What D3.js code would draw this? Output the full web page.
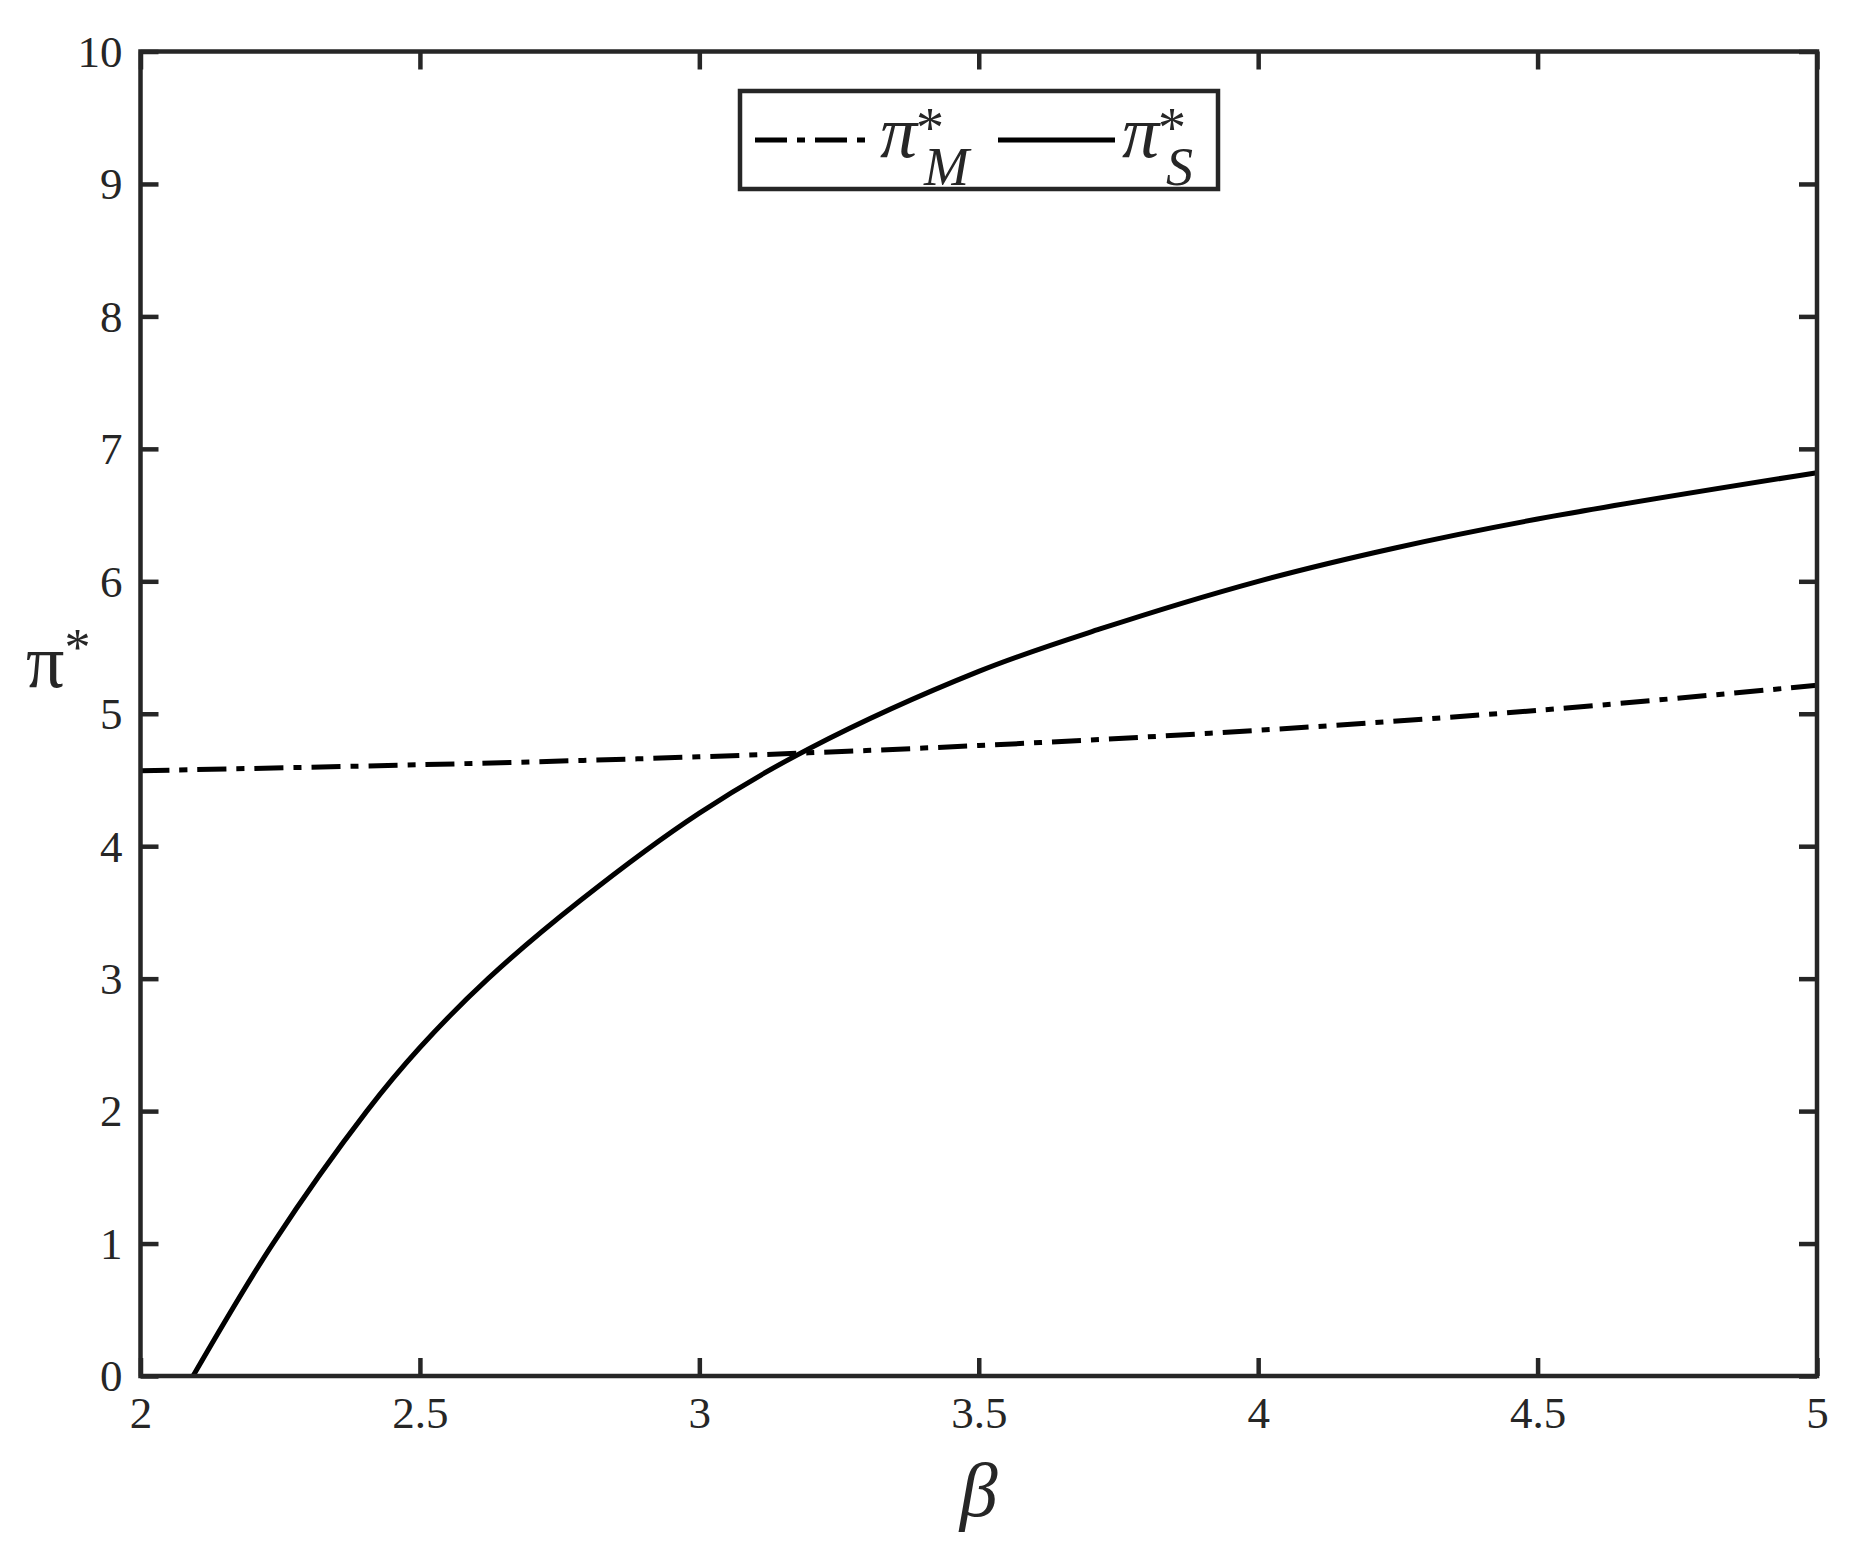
<!DOCTYPE html>
<html>
<head>
<meta charset="utf-8">
<script src="https://cdn.jsdelivr.net/npm/d3@7"></script>
<style>
  body { margin: 0; background: #fff; }
  svg text { font-family: "Liberation Serif", "Times New Roman", serif; fill: #262626; }
</style>
</head>
<body>
<svg id="chart" width="1866" height="1560"></svg>
<script>
// values
const betaM = [2.0, 2.5, 3.0, 3.5, 4.0, 4.5, 5.0];
const piM   = [4.57, 4.615, 4.675, 4.76, 4.875, 5.025, 5.215];

const betaS = [2.094, 2.237, 2.405, 2.5, 2.622, 2.787, 3.0, 3.198, 3.5, 3.717, 4.0, 4.243, 4.5, 5.0];
const piS   = [0, 1.0, 2.0, 2.48, 3.0, 3.59, 4.25, 4.74, 5.32, 5.64, 6.0, 6.25, 6.47, 6.82];

const xTickVals = [2, 2.5, 3, 3.5, 4, 4.5, 5];
const yTickVals = [0, 1, 2, 3, 4, 5, 6, 7, 8, 9, 10];

const svg = d3.select('#chart');
const mLeft = 140.5, mRight = 1817, mTop = 51.5, mBottom = 1376;

let x = d3.scaleLinear().domain([2, 5]).range([mLeft, mRight]);
let y = d3.scaleLinear().domain([0, 10]).range([mBottom, mTop]);

const axisColor = '#262626';
const tickLen = 18;

// bottom axis with labels
let gx = svg.append('g').attr('transform', `translate(0,${mBottom})`)
    .call(d3.axisBottom(x).tickValues(xTickVals).tickFormat(d3.format('')).tickSizeInner(-tickLen).tickSizeOuter(0).tickPadding(20));
// left axis with labels
let gy = svg.append('g').attr('transform', `translate(${mLeft},0)`)
    .call(d3.axisLeft(y).tickValues(yTickVals).tickFormat(d3.format('')).tickSizeInner(-tickLen).tickSizeOuter(0).tickPadding(18));
// mirrored ticks on top / right
let gt = svg.append('g').attr('transform', `translate(0,${mTop})`)
    .call(d3.axisTop(x).tickValues(xTickVals).tickFormat('').tickSizeInner(-tickLen).tickSizeOuter(0));
let gr = svg.append('g').attr('transform', `translate(${mRight},0)`)
    .call(d3.axisRight(y).tickValues(yTickVals).tickFormat('').tickSizeInner(-tickLen).tickSizeOuter(0));

[gx, gy, gt, gr].forEach(g => {
    g.select('.domain').remove();
    g.selectAll('.tick line').attr('stroke', axisColor).attr('stroke-width', 4.5);
    g.selectAll('.tick text').attr('font-size', 45).attr('fill', axisColor)
        .style('font-family', '"Liberation Serif", serif');
});
gx.selectAll('.tick text').attr('dy', '0.71em');
gy.selectAll('.tick text').attr('dy', '0.33em');

// curves
let line = d3.line().x(d => x(d[0])).y(d => y(d[1])).curve(d3.curveCatmullRom.alpha(0.5));

svg.append('path')
    .datum(betaM.map((b, i) => [b, piM[i]]))
    .attr('d', line)
    .attr('fill', 'none').attr('stroke', '#000').attr('stroke-width', 5)
    .attr('stroke-dasharray', '29,10,8,10');

svg.append('path')
    .datum(betaS.map((b, i) => [b, piS[i]]))
    .attr('d', line)
    .attr('fill', 'none').attr('stroke', '#000').attr('stroke-width', 5);

// box
svg.append('rect')
    .attr('x', mLeft).attr('y', mTop)
    .attr('width', mRight - mLeft).attr('height', mBottom - mTop)
    .attr('fill', 'none').attr('stroke', axisColor).attr('stroke-width', 4.5);

// axis labels
svg.append('text').attr('x', 978.75).attr('y', 1516)
    .attr('text-anchor', 'middle').attr('font-size', 76).attr('font-style', 'italic')
    .text('β');

let yl = svg.append('text').attr('x', 26).attr('y', 687).attr('font-size', 76);
yl.append('tspan').text('π');
yl.append('tspan').attr('font-size', 52).attr('dy', -22).text('*');

// legend
let leg = svg.append('g');
leg.append('rect').attr('x', 740).attr('y', 91).attr('width', 478).attr('height', 98)
    .attr('fill', '#fff').attr('stroke', axisColor).attr('stroke-width', 4.5);
leg.append('line').attr('x1', 755).attr('x2', 867).attr('y1', 140).attr('y2', 140)
    .attr('stroke', '#000').attr('stroke-width', 5).attr('stroke-dasharray', '32,10,8,10');
leg.append('line').attr('x1', 998).attr('x2', 1115).attr('y1', 140).attr('y2', 140)
    .attr('stroke', '#000').attr('stroke-width', 5);

const legendNames = [['M', 880], ['S', 1122]];
legendNames.forEach(([sub, lx]) => {
    let t = leg.append('text').attr('x', lx).attr('y', 157).attr('font-size', 74).attr('font-style', 'italic');
    t.append('tspan').text('π');
    t.append('tspan').attr('x', lx + 36).attr('dy', -10).attr('font-size', 56).attr('font-style', 'normal').text('*');
    t.append('tspan').attr('x', lx + 44).attr('dy', 38).attr('font-size', 54).text(sub);
});
</script>
</body>
</html>
